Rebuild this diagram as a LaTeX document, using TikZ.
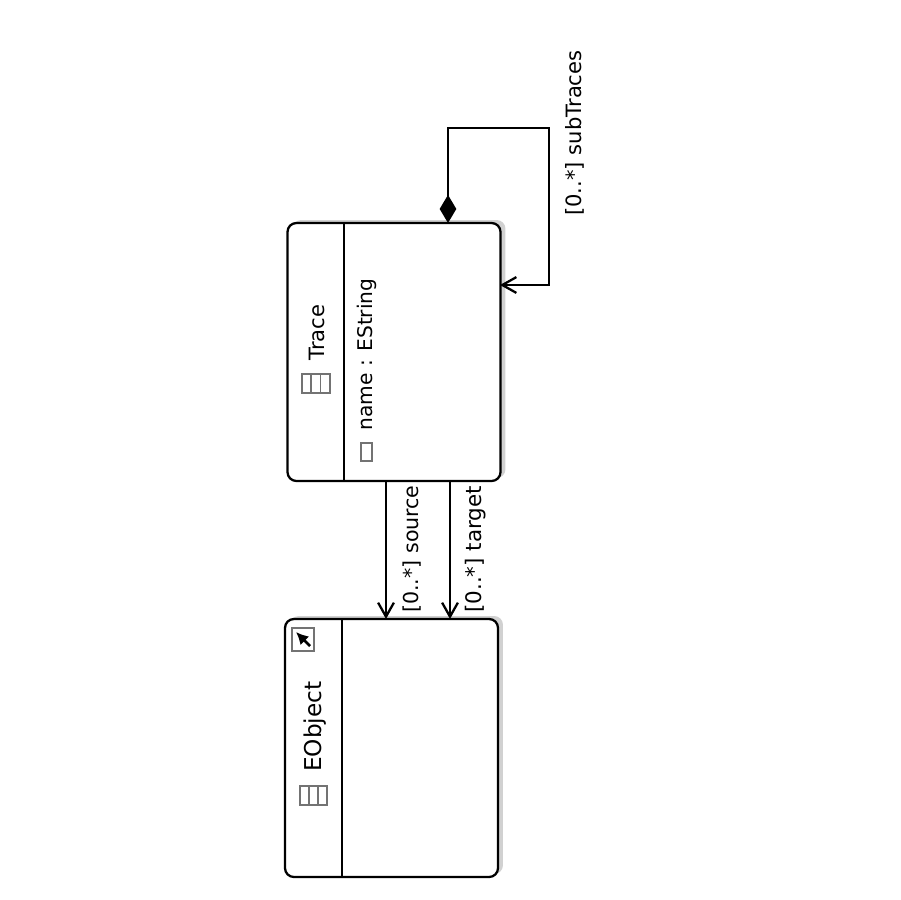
\documentclass[tikz,border=0pt]{standalone}
\usepackage{fontspec}
\setmainfont{DejaVu Sans}
\usetikzlibrary{arrows.meta}
\tikzset{
  classbox/.style={draw=black, fill=white, rounded corners=5pt, line width=1.3pt, minimum width=4.26cm, minimum height=5.16cm, inner sep=0pt},
  boxshadow/.style={draw=none, fill=black!18, rounded corners=5pt, minimum width=4.26cm, minimum height=5.16cm, inner sep=0pt},
  link/.style={line width=1.3pt, -{Straight Barb[length=8pt,width=9pt]}},
  owned/.style={line width=1.3pt, {Diamond[length=16pt,width=9.5pt]}-{Straight Barb[length=8pt,width=9pt]}},
  label/.style={rotate=90, font=\fontsize{11.5}{13}\selectfont, inner sep=0pt},
  icon/.style={draw=black!55, line width=0.9pt}
}
\begin{document}
\begin{tikzpicture}[x=0.02cm, y=-0.02cm]
\useasboundingbox (0,0) rectangle (900,900);
%shadows
\node[boxshadow] at (399,349) {};
\node[boxshadow] at (396.5,745) {};
%classes
\node[classbox] (trace) at (394,352) {};
\node[classbox] (eobject) at (391.5,748) {};
\draw[line width=1.3pt] (344,223) -- (344,481);
\draw[line width=1.3pt] (342,619) -- (342,877);
%attachment points
\coordinate (sourceA) at (386,481);
\coordinate (sourceB) at (386,619);
\coordinate (targetA) at (450,481);
\coordinate (targetB) at (450,619);
\coordinate (loopA) at (448,223);
\coordinate (loopB) at (448,128);
\coordinate (loopC) at (549,128);
\coordinate (loopD) at (549,285);
\coordinate (loopE) at (500,285);
\draw[link] (sourceA) -- (sourceB);
\draw[link] (targetA) -- (targetB);
\draw[owned] (loopA) -- (loopB) -- (loopC) -- (loopD) -- (loopE);
%labels
\node[label, anchor=west, font=\fontsize{12}{13}\selectfont] (traceName) at (317,361) {Trace};
\node[label, anchor=west, font=\fontsize{13.2}{14}\selectfont] (eobjectName) at (315,772) {EObject};
\node[label, anchor=west] (nameAttr) at (367,431) {name : EString};
\node[label, anchor=west, font=\fontsize{11.7}{13}\selectfont] (sourceLabel) at (412,613) {[0..*] source};
\node[label, anchor=west, font=\fontsize{12.2}{13}\selectfont] (targetLabel) at (476,613) {[0..*] target};
\node[label, anchor=west, font=\fontsize{12}{13}\selectfont] (subLabel) at (575,216) {[0..*] subTraces};
%class icons
\draw[icon] (302,374) rectangle (330,393);
\draw[icon] (311,374) -- (311,393) (320.5,374) -- (320.5,393);
\draw[icon] (300,786) rectangle (327,805);
\draw[icon] (309,786) -- (309,805) (318,786) -- (318,805);
%attribute icon
\draw[icon] (361,443) rectangle (372,461);
%shortcut icon
\draw[icon, fill=white] (292,628) rectangle (314,651);
\draw[line width=1.6pt, -{Latex[length=7pt,width=7pt]}] (310,646) -- (296,632);
\end{tikzpicture}
\end{document}
